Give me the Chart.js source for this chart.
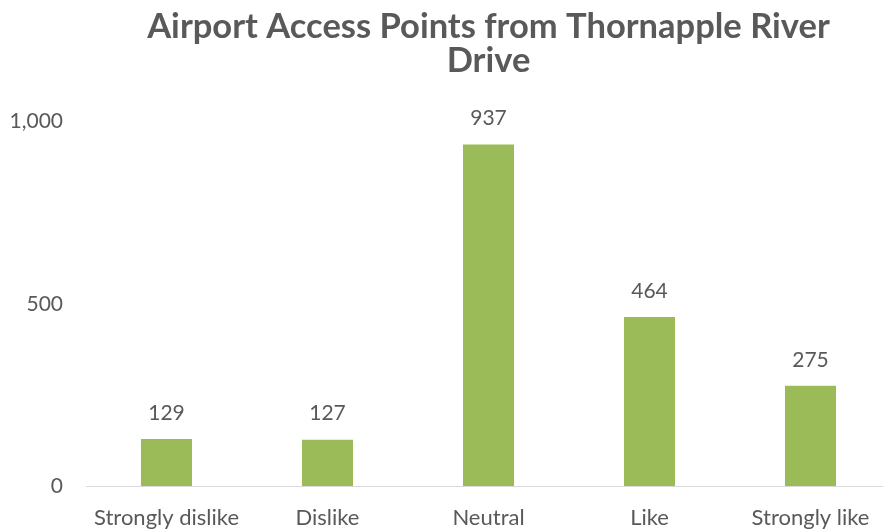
<!DOCTYPE html>
<html>
<head>
<meta charset="utf-8">
<script src="https://cdn.jsdelivr.net/npm/chart.js@4.4.1/dist/chart.umd.min.js"></script>
<style>
html,body{margin:0;padding:0;background:#fff;overflow:hidden;width:883px;height:531px;}
canvas{display:block;}
</style>
</head>
<body>
<canvas id="c" width="900" height="531"></canvas>
<script>
const categories = ["Strongly dislike", "Dislike", "Neutral", "Like", "Strongly like"];
const responses = [129, 127, 937, 464, 275];
const yTicks = [0, 500, 1000];
const titleLines = ["Airport Access Points from Thornapple River", "Drive"];

const FONT = "Lato, 'Open Sans', sans-serif";
const TXT = "#595959";

const valueLabels = {
  id: "valueLabels",
  afterDatasetsDraw(chart) {
    const ctx = chart.ctx;
    const meta = chart.getDatasetMeta(0);
    ctx.save();
    ctx.font = "21px " + FONT;
    ctx.fillStyle = TXT;
    ctx.textAlign = "center";
    ctx.textBaseline = "middle";
    meta.data.forEach((bar, i) => {
      ctx.fillText(String(chart.data.datasets[0].data[i]), bar.x, bar.y - 26);
    });
    ctx.restore();
  }
};

new Chart(document.getElementById("c"), {
  type: "bar",
  data: {
    labels: categories,
    datasets: [{
      data: responses,
      backgroundColor: "#9BBB59",
      borderWidth: 0,
      categoryPercentage: 1,
      barPercentage: 0.317
    }]
  },
  options: {
    responsive: false,
    animation: false,
    events: [],
    layout: { padding: { left: 0, right: 9, top: 10, bottom: 0 } },
    plugins: {
      legend: { display: false },
      tooltip: { enabled: false },
      title: {
        display: true,
        text: titleLines,
        fullSize: false,
        color: TXT,
        font: { family: FONT, size: 34.5, weight: "bold", lineHeight: 0.98 },
        padding: { top: 0, bottom: 44 }
      }
    },
    scales: {
      x: {
        afterFit: (s) => { s.height = 45; },
        grid: { display: false, drawTicks: false },
        border: { display: true, color: "#D9D9D9", width: 1 },
        ticks: { color: TXT, font: { family: FONT, size: 22 }, padding: 19, maxRotation: 0, autoSkip: false }
      },
      y: {
        min: 0,
        max: 1000,
        afterBuildTicks: (s) => { s.ticks = yTicks.map(v => ({ value: v })); },
        afterFit: (s) => { s.width = 86; },
        grid: { display: false, drawTicks: false },
        border: { display: false },
        ticks: {
          color: TXT,
          font: { family: FONT, size: 21 },
          padding: 23,
          callback: (v) => v.toLocaleString("en-US")
        }
      }
    }
  },
  plugins: [valueLabels]
});
</script>
</body>
</html>
